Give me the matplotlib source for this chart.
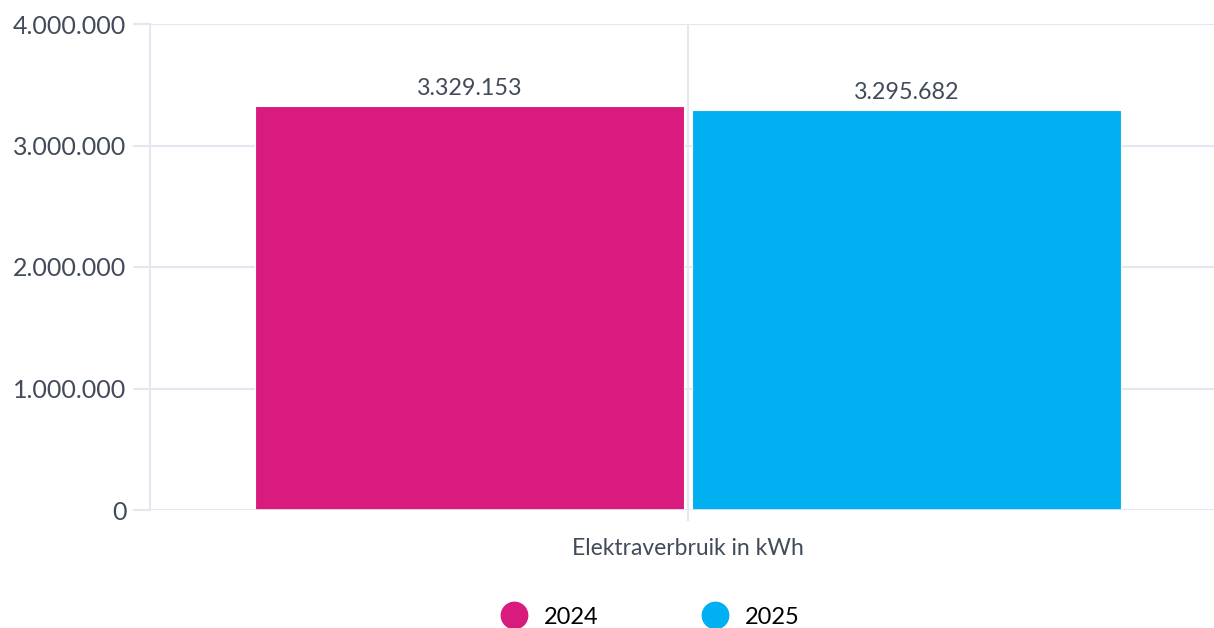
import matplotlib.pyplot as plt
from matplotlib.ticker import FuncFormatter

# data
category = "Elektraverbruik in kWh"
years = ["2024", "2025"]
values = [3329153, 3295682]
colors = ["#D81B7D", "#00B0F0"]
yticks = [0, 1000000, 2000000, 3000000, 4000000]

plt.rcParams['font.family'] = ['Lato', 'DejaVu Sans']
text_col = "#414B5A"
grid_col = "#E4E6F2"


def dots(v):
    return f"{int(v):,}".replace(",", ".")


fig = plt.figure(figsize=(12.14, 6.28), dpi=100)
ax = fig.add_axes([150 / 1214, 118 / 628, 1064 / 1214, 486 / 628])

width = 0.4
offsets = [-0.204, 0.204]
for off, v, c, yr in zip(offsets, values, colors, years):
    ax.bar(off, v, width=width, color=c, edgecolor="white", linewidth=0.8,
           label=yr, zorder=3)
    ax.text(off, v + 55000, dots(v), ha="center", va="bottom",
            fontsize=16.8, color=text_col)

ax.set_xlim(-0.5016, 0.4904)
ax.set_ylim(0, 4000000)
ax.set_yticks(yticks)
ax.yaxis.set_major_formatter(FuncFormatter(lambda v, p: dots(v)))
ax.set_xticks([0])
ax.set_xticklabels([category])

ax.grid(axis="y", color=grid_col, linewidth=1.5, zorder=0)
ax.axvline(0, color=grid_col, linewidth=1.5, zorder=1)
for s in ["top", "right", "bottom"]:
    ax.spines[s].set_visible(False)
ax.spines["left"].set_color(grid_col)
ax.spines["left"].set_linewidth(1.5)
ax.axhline(0, color=grid_col, linewidth=2, zorder=4)

ax.tick_params(axis="y", length=12, width=1.5, color=grid_col,
               labelsize=18, labelcolor=text_col, pad=5)
ax.tick_params(axis="x", length=8, width=1.5, color=grid_col,
               labelsize=16.5, labelcolor=text_col, pad=12)

leg = fig.legend(handles=[plt.Line2D([], [], marker="o", linestyle="", markersize=19,
                                     color=c, label=y) for c, y in zip(colors, years)],
                 loc="center", bbox_to_anchor=(645 / 1214, 1 - 617 / 628),
                 ncol=2, frameon=False, fontsize=17, columnspacing=3.95,
                 handletextpad=0.25)

fig.savefig("out.png", dpi=100)
